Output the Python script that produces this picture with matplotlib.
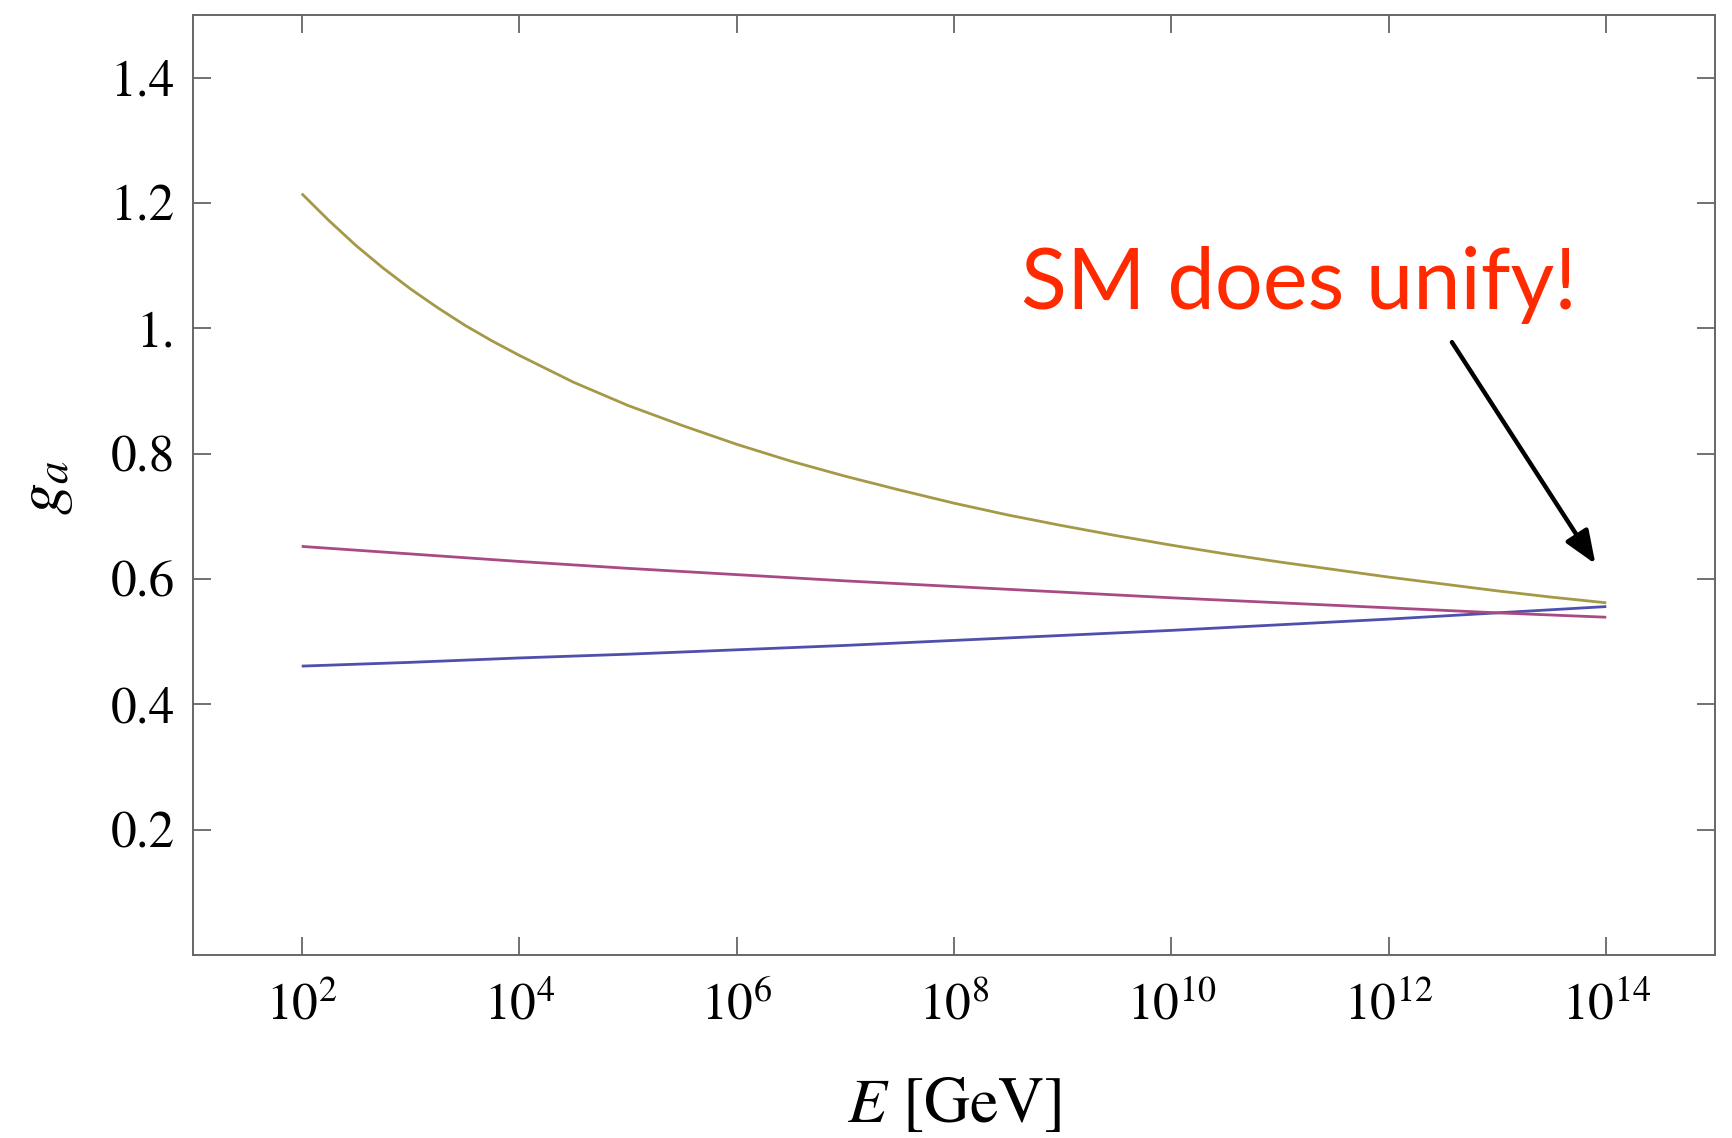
import matplotlib
matplotlib.use("Agg")
import matplotlib.pyplot as plt
import numpy as np

# ---------------- data ----------------
# log10(E/GeV) sample points
exp_fine = [2.0, 2.25, 2.5, 2.75, 3.0, 3.25, 3.5, 3.75, 4.0, 4.5, 5.0, 5.5,
            6.0, 6.5, 7.0, 7.5, 8.0, 8.5, 9.0, 9.5, 10.0, 10.5, 11.0, 11.5,
            12.0, 12.5, 13.0, 13.5, 14.0]
g_yellow = [1.215, 1.172, 1.132, 1.096, 1.063, 1.033, 1.005, 0.980, 0.957,
            0.914, 0.877, 0.845, 0.815, 0.788, 0.764, 0.742, 0.721, 0.702,
            0.685, 0.669, 0.654, 0.640, 0.627, 0.615, 0.603, 0.592, 0.581,
            0.571, 0.562]

exp_coarse = [2, 3, 4, 5, 6, 7, 8, 9, 10, 11, 12, 13, 14]
g_magenta = [0.652, 0.640, 0.628, 0.617, 0.607, 0.597, 0.588, 0.579,
             0.570, 0.562, 0.554, 0.546, 0.539]
g_blue = [0.461, 0.467, 0.474, 0.480, 0.487, 0.494, 0.502, 0.510,
          0.518, 0.527, 0.536, 0.546, 0.556]

x_tick_exps = [2, 4, 6, 8, 10, 12, 14]
y_ticks = [0.2, 0.4, 0.6, 0.8, 1.0, 1.2, 1.4]
y_tick_labels = ["0.2", "0.4", "0.6", "0.8", "1.", "1.2", "1.4"]

annotation_text = "SM does unify!"

# ---------------- style ----------------
plt.rcParams["font.family"] = ["STIXGeneral", "DejaVu Sans"]
plt.rcParams["mathtext.fontset"] = "stix"

W, H = 1732, 1138
fig = plt.figure(figsize=(W / 100, H / 100), dpi=100)
left, right, top, bottom = 193, 1715, 15, 955
ax = fig.add_axes([left / W, 1 - bottom / H, (right - left) / W, (bottom - top) / H])

col_blue = "#4f4fae"
col_mag = "#a94a84"
col_yel = "#a59847"

E_fine = 10.0 ** np.array(exp_fine)
E_coarse = 10.0 ** np.array(exp_coarse)

ax.plot(E_coarse, g_blue, color=col_blue, lw=2.0, solid_capstyle="butt")
ax.plot(E_coarse, g_magenta, color=col_mag, lw=2.0, solid_capstyle="butt")
ax.plot(E_fine, g_yellow, color=col_yel, lw=2.0, solid_capstyle="butt",
        solid_joinstyle="round")

ax.set_xscale("log")
ax.set_xlim(1e1, 1e15)
ax.set_ylim(0, 1.5)

ax.set_xticks([10.0 ** e for e in x_tick_exps])
ax.set_xticklabels([r"$10^{%d}$" % e for e in x_tick_exps])
ax.xaxis.set_minor_locator(matplotlib.ticker.NullLocator())
ax.set_yticks(y_ticks)
ax.set_yticklabels(y_tick_labels)

spine_col = "#666666"
for s in ax.spines.values():
    s.set_color(spine_col)
    s.set_linewidth(1.4)

ax.tick_params(axis="both", which="major", direction="in", length=13,
               width=1.3, color=spine_col, labelsize=37, labelcolor="black",
               top=True, right=True)
ax.tick_params(axis="x", pad=20)
ax.tick_params(axis="y", pad=13)

# axis labels
fig.text(954 / W, 1 - 1107 / H, r"$E$ [GeV]", fontsize=46, ha="center", va="center")
fig.text(46 / W, 1 - 487 / H, r"$g_a$", fontsize=46, rotation=90, ha="center", va="center")

# annotation
ax.text((1021 - left) / (right - left), (bottom - 309) / (bottom - top), annotation_text,
        transform=ax.transAxes, fontsize=61, color="#ff2a00",
        family=["Lato", "DejaVu Sans"], ha="left", va="baseline")

ax.annotate("", xy=(10 ** 13.90, 0.624), xytext=(10 ** 12.58, 0.978),
            arrowprops=dict(arrowstyle="-|>,head_length=0.5,head_width=0.2",
                            lw=3.2, color="black", mutation_scale=40,
                            shrinkA=0, shrinkB=0))

fig.savefig("out.png", dpi=100)
